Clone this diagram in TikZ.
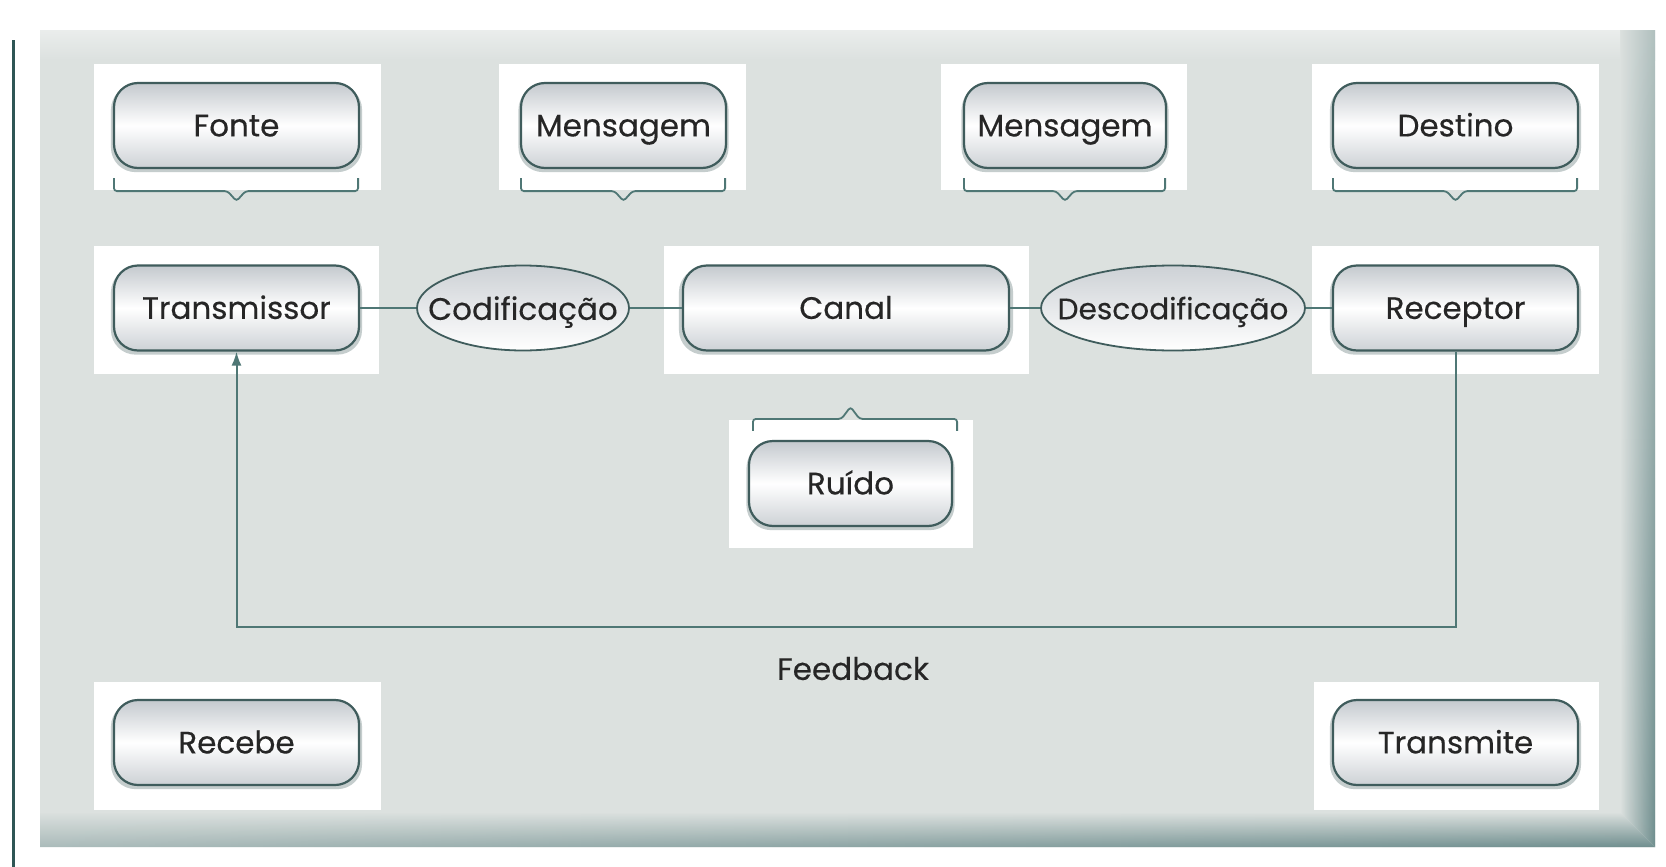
\documentclass[tikz,border=0pt]{standalone}
\usepackage{fontspec}
\setmainfont{Poppins}
\newfontfamily\labelfont{Poppins}[FakeBold=0.3]
\usetikzlibrary{shapes.geometric,arrows.meta,shadows,calc,fadings}

\definecolor{panelc}{HTML}{DCE1DF}
\definecolor{edgec}{HTML}{6F8E8E}
\definecolor{linec}{HTML}{4F7775}
\definecolor{borderc}{HTML}{3F5C5C}
\definecolor{textc}{HTML}{262626}
\definecolor{glossc}{HTML}{C4C9CE}
\definecolor{rulec}{HTML}{2F5655}

\tikzset{
  lbl/.style={text=textc, font=\labelfont\fontsize{15.5}{18}\selectfont,
    text height=10.9pt, text depth=0pt},
  pad/.style={fill=white, draw=none, inner sep=0pt},
  box/.style={lbl, rounded corners=12pt, draw=borderc, line width=1.1pt,
    top color=glossc, bottom color=glossc!85!white, middle color=white,
    inner sep=0pt, minimum height=42.5pt,
    general shadow={fill=borderc, opacity=.3, shadow scale=1.025, shadow yshift=-1.5pt}},
  oval/.style={lbl, ellipse, draw=borderc, line width=0.9pt,
    top color=glossc!85!white, bottom color=white, inner sep=0pt,
    text height=0pt, minimum height=42.5pt},
  link/.style={draw=linec, line width=1pt},
  bracket/.style={draw=linec, line width=0.9pt, rounded corners=1.5pt},
}

% bracket under a node, notch pointing down
\newcommand{\bracedown}[1]{%
  \draw[bracket] ($(#1.south west)+(1,9)$) -- ($(#1.south west)+(1,22)$)
    -- ($(#1.south)+(-9,22)$) -- ($(#1.south)+(0,32)$) -- ($(#1.south)+(9,22)$)
    -- ($(#1.south east)+(-2,22)$) -- ($(#1.south east)+(-2,9)$);}
% bracket above a node, notch pointing up
\newcommand{\braceup}[1]{%
  \draw[bracket] ($(#1.north west)+(5,-9)$) -- ($(#1.north west)+(5,-21)$)
    -- ($(#1.north)+(-9,-21)$) -- ($(#1.north)+(0,-33)$) -- ($(#1.north)+(9,-21)$)
    -- ($(#1.north east)+(4,-21)$) -- ($(#1.north east)+(4,-9)$);}
% ellipse label that does not widen its ellipse
\newcommand{\ovaltext}[1]{\raisebox{-0.5\height}[0pt][0pt]{\makebox[0pt]{#1}}}

\begin{document}
\begin{tikzpicture}[x=0.5pt,y=-0.5pt]
\useasboundingbox (0,0) rectangle (1666,867);
\fill[white] (0,0) rectangle (1666,867);

% margin rule
\draw[rulec, line width=1.5pt] (13,40) -- (13,867);

% background panel with a bevelled frame darkening towards the lower right
\fill[panelc] (40,30) rectangle (1655,847);
\shade[top color=white!40!panelc, bottom color=panelc] (40,30) rectangle (1655,60);
\shade[top color=panelc, bottom color=edgec!45!panelc]
  (40,812) -- (1620,812) -- (1655,847) -- (40,847) -- cycle;
\shade[top color=panelc, bottom color=edgec, path fading=west]
  (40,812) -- (1620,812) -- (1655,847) -- (40,847) -- cycle;
\shade[left color=panelc, right color=edgec!40!panelc]
  (1620,30) -- (1655,30) -- (1655,847) -- (1620,812) -- cycle;
\shade[left color=panelc, right color=edgec, path fading=north]
  (1620,30) -- (1655,30) -- (1655,847) -- (1620,812) -- cycle;

% white pads
\node[pad, minimum width=143.5pt, minimum height=63pt] (fontePad)  at (237,126.5) {};
\node[pad, minimum width=123.5pt, minimum height=63pt] (msgaPad)   at (622.5,126.5) {};
\node[pad, minimum width=123pt,   minimum height=63pt] (msgbPad)   at (1064,126.5) {};
\node[pad, minimum width=143.5pt, minimum height=63pt] (destPad)   at (1455.5,126.5) {};
\node[pad, minimum width=142.5pt, minimum height=64pt] (transPad)  at (236,310) {};
\node[pad, minimum width=182.5pt, minimum height=64pt] (canalPad)  at (846,310) {};
\node[pad, minimum width=143.5pt, minimum height=64pt] (recPad)    at (1455.5,310) {};
\node[pad, minimum width=122pt,   minimum height=64pt] (ruidoPad)  at (851,484) {};
\node[pad, minimum width=143.5pt, minimum height=64pt] (recebePad) at (237,746) {};
\node[pad, minimum width=142.5pt, minimum height=64pt] (transmPad) at (1456.5,746) {};

% boxes
\node[box, minimum width=122.5pt] (fonte)   at (236.5,125.5) {Fonte};
\node[box, minimum width=102.5pt] (msga)    at (623.5,125.5) {Mensagem};
\node[box, minimum width=101pt]   (msgb)    at (1065,125.5) {Mensagem};
\node[box, minimum width=122.5pt] (destino) at (1455.5,125.5) {Destino};

\node[box, minimum width=122.5pt] (transmissor) at (236.5,308) {Transmissor};
\node[oval, minimum width=106pt]  (cod)         at (523,308) {\ovaltext{Codificação}};
\node[box, minimum width=163pt]   (canal)       at (846,308) {Canal};
\node[oval, minimum width=132pt, font=\labelfont\fontsize{14.8}{18}\selectfont]
  (desc) at (1173,308) {\ovaltext{Descodificação}};
\node[box, minimum width=122.5pt] (receptor)    at (1455.5,308) {Receptor};

\node[box, minimum width=101.5pt] (ruido) at (850.5,483.5) {Ruído};

\node[box, minimum width=122.5pt] (recebe)    at (236.5,742.5) {Recebe};
\node[box, minimum width=122.5pt] (transmite) at (1455.5,742.5) {Transmite};

% brackets
\bracedown{fonte}
\bracedown{msga}
\bracedown{msgb}
\bracedown{destino}
\braceup{ruido}

% chain
\draw[link] (transmissor) -- (cod);
\draw[link] (cod) -- (canal);
\draw[link] (canal) -- (desc);
\draw[link] (desc) -- (receptor);

% feedback loop
\coordinate (fb) at (850,627);
\draw[link, -{Latex[length=7pt,width=5pt]}] (receptor.south) |- (fb) -| (transmissor.south);
\node[lbl] (feedback) at (853,669) {Feedback};
\end{tikzpicture}
\end{document}
